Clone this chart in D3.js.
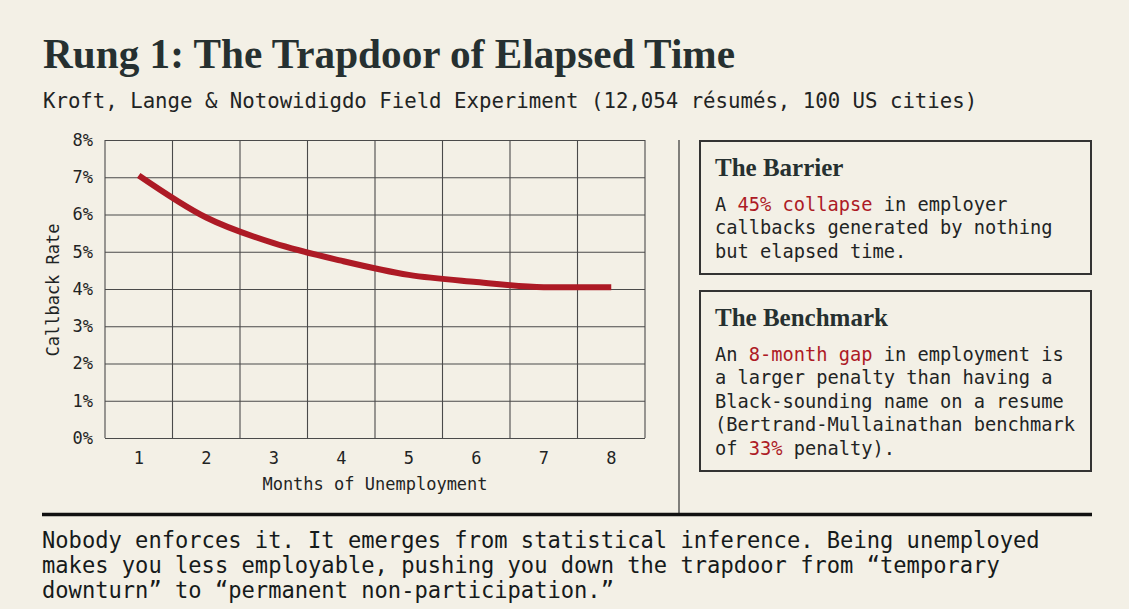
<!DOCTYPE html>
<html>
<head>
<meta charset="utf-8">
<script src="https://cdn.jsdelivr.net/npm/d3@7"></script>
<style>
  body { margin: 0; background: #f3f0e6; }
  svg { display: block; }
  .mono { font-family: "DejaVu Sans Mono", "Liberation Mono", monospace; }
  .serif { font-family: "Liberation Serif", "DejaVu Serif", serif; font-weight: bold; }
</style>
</head>
<body>
<div id="chart"></div>
<script>
// chart data
var months = [1, 2, 3, 4, 5, 6, 7, 8];
var callbackRates = [7.05, 5.92, 5.23, 4.76, 4.38, 4.19, 4.05, 4.05];
var yTicks = [0, 1, 2, 3, 4, 5, 6, 7, 8];

// text blocks, {...} marks red highlight
var titleText = "Rung 1: The Trapdoor of Elapsed Time";
var subtitleText = "Kroft, Lange & Notowidigdo Field Experiment (12,054 résumés, 100 US cities)";
var barrierLines = [
  "A {45% collapse} in employer",
  "callbacks generated by nothing",
  "but elapsed time."
];
var benchmarkLines = [
  "An {8-month gap} in employment is",
  "a larger penalty than having a",
  "Black-sounding name on a resume",
  "(Bertrand-Mullainathan benchmark",
  "of {33%} penalty)."
];
var footerLines = [
  "Nobody enforces it. It emerges from statistical inference. Being unemployed",
  "makes you less employable, pushing you down the trapdoor from \u201ctemporary",
  "downturn\u201d to \u201cpermanent non-participation.\u201d"
];

var W = 1129, H = 609;
var ink = "#1f2424", red = "#ad1a25", grid = "#4a4a4a";

var svg = d3.select("#chart").append("svg")
  .attr("width", W).attr("height", H);

svg.append("rect").attr("width", W).attr("height", H).attr("fill", "#f3f0e6");

// title + subtitle
svg.append("text").attr("class", "serif")
  .attr("x", 43).attr("y", 68)
  .attr("font-size", 42).attr("fill", "#263030")
  .attr("textLength", 692).attr("lengthAdjust", "spacingAndGlyphs")
  .text(titleText);

svg.append("text").attr("class", "mono")
  .attr("x", 43).attr("y", 108)
  .attr("font-size", 20.7).attr("fill", ink)
  .text(subtitleText);

// plot area
var plot = { left: 105, right: 645, top: 140, bottom: 438 };

var x = d3.scaleBand().domain(months).range([plot.left, plot.right]);
var y = d3.scaleLinear().domain([0, 8]).range([plot.bottom, plot.top]);

var g = svg.append("g");

// vertical grid at band edges
var xEdges = months.map(function (m) { return x(m); }).concat([plot.right]);
g.selectAll(".vgrid").data(xEdges).enter().append("line")
  .attr("x1", function (d) { return d; }).attr("x2", function (d) { return d; })
  .attr("y1", plot.top).attr("y2", plot.bottom)
  .attr("stroke", grid).attr("stroke-width", 1.1);

// y axis with full-width ticks as grid
var yAxis = g.append("g")
  .attr("transform", "translate(" + plot.left + ",0)")
  .call(d3.axisLeft(y).tickValues(yTicks)
    .tickSize(-(plot.right - plot.left))
    .tickPadding(12)
    .tickFormat(function (d) { return d + "%"; }));
yAxis.select(".domain").remove();
yAxis.selectAll(".tick line").attr("stroke", grid).attr("stroke-width", 1.1);
yAxis.selectAll(".tick text").attr("class", "mono")
  .attr("font-size", 17).attr("fill", ink);

// x axis labels
var xAxis = g.append("g")
  .attr("transform", "translate(0," + plot.bottom + ")")
  .call(d3.axisBottom(x).tickSize(0).tickPadding(14));
xAxis.select(".domain").remove();
xAxis.selectAll(".tick text").attr("class", "mono")
  .attr("font-size", 17).attr("fill", ink);

// axis titles
g.append("text").attr("class", "mono")
  .attr("x", (plot.left + plot.right) / 2).attr("y", 490)
  .attr("text-anchor", "middle").attr("font-size", 17).attr("fill", ink)
  .text("Months of Unemployment");

g.append("text").attr("class", "mono")
  .attr("transform", "translate(59,290) rotate(-90)")
  .attr("text-anchor", "middle").attr("font-size", 17).attr("fill", ink)
  .text("Callback Rate");

// the line
var line = d3.line()
  .x(function (d, i) { return x(months[i]) + x.bandwidth() / 2; })
  .y(function (d) { return y(d); })
  .curve(d3.curveMonotoneX);

g.append("path").datum(callbackRates)
  .attr("d", line)
  .attr("fill", "none")
  .attr("stroke", red)
  .attr("stroke-width", 6)
  .attr("stroke-linejoin", "round");

// divider lines
svg.append("line")
  .attr("x1", 679).attr("x2", 679).attr("y1", 140).attr("y2", 514)
  .attr("stroke", "#333").attr("stroke-width", 1.2);
svg.append("line")
  .attr("x1", 42).attr("x2", 1092).attr("y1", 514.5).attr("y2", 514.5)
  .attr("stroke", "#111").attr("stroke-width", 3.5);

// callout boxes
function richLine(sel, str) {
  var parts = str.split(/(\{[^}]*\})/);
  parts.forEach(function (p) {
    if (!p) return;
    var hi = p.charAt(0) === "{";
    sel.append("tspan")
      .attr("fill", hi ? red : ink)
      .text(hi ? p.slice(1, -1) : p);
  });
}

function box(top, bottom, heading, lines) {
  var b = svg.append("g");
  b.append("rect")
    .attr("x", 700).attr("y", top)
    .attr("width", 391).attr("height", bottom - top)
    .attr("fill", "none").attr("stroke", "#333").attr("stroke-width", 2);
  b.append("text").attr("class", "serif")
    .attr("x", 715).attr("y", top + 35)
    .attr("font-size", 25).attr("fill", "#263030")
    .text(heading);
  lines.forEach(function (l, i) {
    var t = b.append("text").attr("class", "mono")
      .attr("x", 715).attr("y", top + 69.5 + i * 23.5)
      .attr("font-size", 18.7).attr("xml:space", "preserve");
    richLine(t, l);
  });
}

box(141, 274, "The Barrier", barrierLines);
box(291, 471, "The Benchmark", benchmarkLines);

// footer paragraph
footerLines.forEach(function (l, i) {
  svg.append("text").attr("class", "mono")
    .attr("x", 42).attr("y", 548 + i * 25)
    .attr("font-size", 22.1).attr("fill", "#161a1a")
    .text(l);
});
</script>
</body>
</html>
